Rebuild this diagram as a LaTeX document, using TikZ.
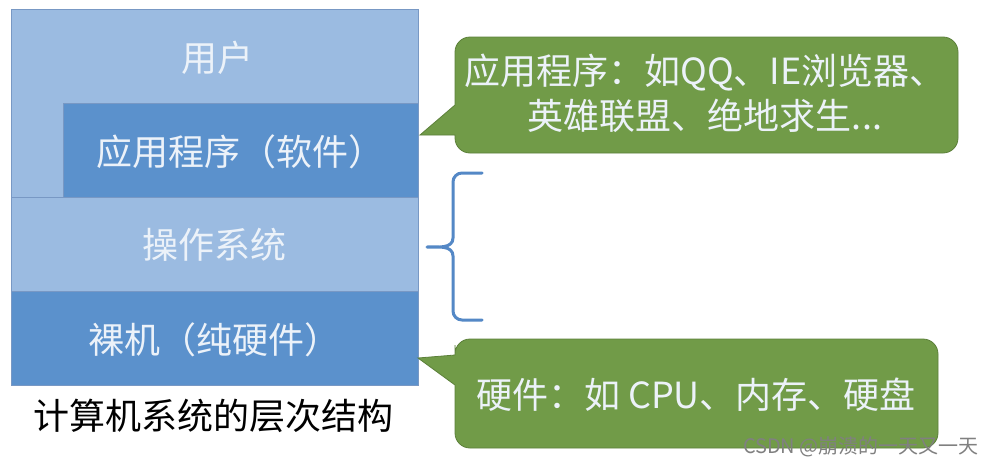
\documentclass[tikz,border=0pt]{standalone}
\usepackage{fontspec}
\setmainfont{Noto Sans CJK SC}
\definecolor{lblue}{RGB}{155,187,225}
\definecolor{dblue}{RGB}{91,145,204}
\definecolor{bline}{RGB}{120,152,196}
\definecolor{gfill}{RGB}{113,155,72}
\definecolor{gline}{RGB}{92,128,58}
\definecolor{wtext}{RGB}{236,242,249}
\definecolor{brace}{RGB}{84,136,198}
\begin{document}
\begin{tikzpicture}[x=1pt,y=-1pt,
  layer/.style={draw=bline,line width=0.8pt,anchor=north west,inner sep=0pt},
  btext/.style={text=wtext,font=\fontsize{36}{40}\selectfont,inner sep=0pt},
  gtext/.style={text=wtext,font=\fontsize{36}{45}\selectfont,align=center,inner sep=0pt},
  callout/.style={fill=gfill,draw=gline,line width=0.8pt,line join=miter},
  bracestyle/.style={draw=brace,line width=3pt,line cap=round,line join=round}]
\useasboundingbox (0,0) rectangle (995,466);
\fill[white] (0,0) rectangle (995,466);
% layers
\node[layer,fill=lblue,minimum width=407pt,minimum height=188pt] (user) at (11,9) {};
\node[layer,fill=dblue,minimum width=355pt,minimum height=94pt] (app) at (63,103) {};
\node[layer,fill=lblue,minimum width=407pt,minimum height=94pt] (os) at (11,197) {};
\node[layer,fill=dblue,minimum width=407pt,minimum height=94pt] (hw) at (11,291) {};
\node[btext] (usert) at (217,58) {用户};
\node[btext] (appt) at (240,152) {应用程序（软件）};
\node[btext] (ost) at (214,245) {操作系统};
\node[btext] (hwt) at (214,340) {裸机（纯硬件）};
\node[inner sep=0pt,font=\fontsize{36}{40}\selectfont] (cap) at (213,416) {计算机系统的层次结构};
% top callout
\coordinate (tipA) at (420,135);
\path[callout] (455,70) [sharp corners] -- (455,105) -- (tipA) -- (455,135) [rounded corners=15pt] -- (455,153) -- (958,153) -- (958,37) -- (455,37) -- cycle;
\node[gtext] (appnote) at (705,93) {应用程序：如QQ、IE浏览器、\\英雄联盟、绝地求生...};
% bottom callout
\coordinate (tipB) at (418,358);
\path[callout] (455,345) [sharp corners] -- (455,355) -- (tipB) -- (455,385) [rounded corners=15pt] -- (455,448) -- (938,448) -- (938,339) -- (455,339) -- (455,345);
\node[gtext] (hwnote) at (696,395) {硬件：如 CPU、内存、硬盘};
% brace
\coordinate (bt) at (482,173);
\coordinate (bm) at (427,247);
\coordinate (bb) at (482,320);
\path[bracestyle] (bt) -- (462,173) to[out=180,in=90] (453,182) -- (453,238) to[out=-90,in=0] (bm)
  (bm) to[out=0,in=90] (453,256) -- (453,311) to[out=-90,in=180] (462,320) -- (bb);
% watermark
\node[inner sep=0pt,text=black!50,font=\fontsize{20}{24}\selectfont,anchor=east] (wm) at (979,447) {CSDN @崩溃的一天又一天};
\end{tikzpicture}
\end{document}
